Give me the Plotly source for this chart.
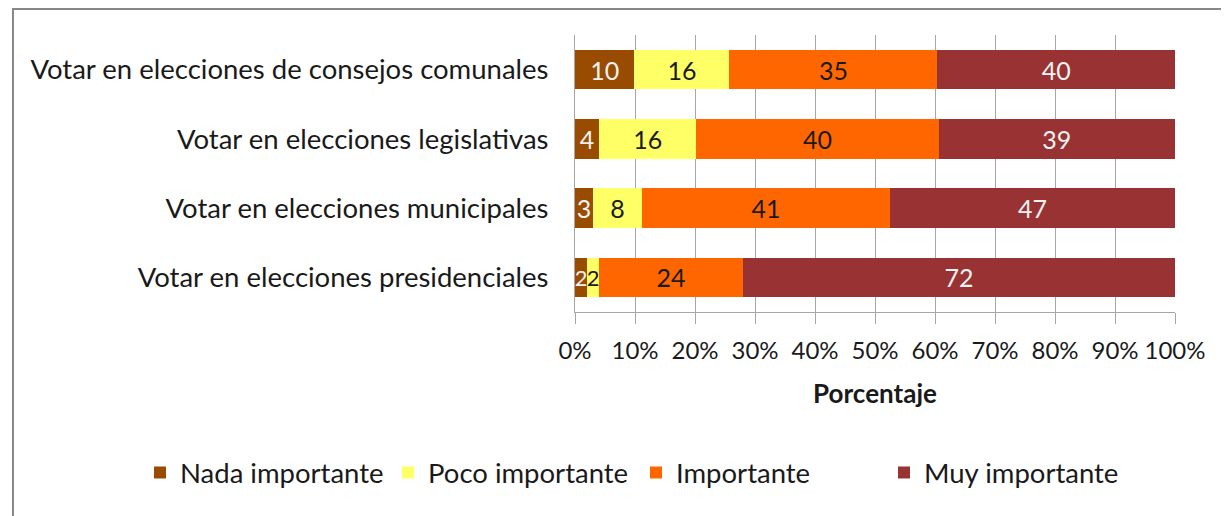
import plotly.graph_objects as go

categorias = [
    "Votar en elecciones de consejos comunales",
    "Votar en elecciones legislativas",
    "Votar en elecciones municipales",
    "Votar en elecciones presidenciales",
]
nada = [10, 4, 3, 2]
poco = [16, 16, 8, 2]
importante = [35, 40, 41, 24]
muy = [40, 39, 47, 72]
ticks = [f"{v}%" for v in range(0, 101, 10)]

series = [
    ("Nada importante", nada, "#994C00", "#f2f2f2"),
    ("Poco importante", poco, "#FFFF66", "#1a1a1a"),
    ("Importante", importante, "#FF6600", "#1a1a1a"),
    ("Muy importante", muy, "#993333", "#f2f2f2"),
]

FONT = "Lato"

fig = go.Figure()
for name, vals, color, tcolor in series:
    # the tiny 2% slices get a slightly smaller label so they don't collide
    sizes = [22 if v <= 2 else 25 for v in vals]
    fig.add_trace(
        go.Bar(
            y=categorias,
            x=vals,
            name=name,
            orientation="h",
            marker=dict(color=color, line=dict(width=0)),
            text=vals,
            texttemplate="%{text}",
            textposition="inside",
            insidetextanchor="middle",
            textangle=0,
            constraintext="none",
            textfont=dict(family=FONT, size=sizes, color=tcolor),
        )
    )

fig.update_layout(
    barmode="stack",
    barnorm="percent",
    bargap=0.43,
    width=1229,
    height=516,
    margin=dict(l=567, r=62, t=27, b=212, autoexpand=False),
    paper_bgcolor="white",
    plot_bgcolor="white",
    font=dict(family=FONT, size=27.5, color="#1a1a1a"),
    legend=dict(
        orientation="h",
        x=-0.725,
        xanchor="left",
        y=-0.58,
        yanchor="middle",
        font=dict(size=27.5),
        itemwidth=30,
        traceorder="normal",
        entrywidth=203,
        entrywidthmode="pixels",
    ),
    xaxis=dict(
        range=[0, 100],
        tickvals=list(range(0, 101, 10)),
        ticktext=ticks,
        tickfont=dict(size=24),
        ticklabelstandoff=6,
        showgrid=True,
        gridcolor="#a6a6a6",
        gridwidth=1,
        showline=True,
        linecolor="#a6a6a6",
        ticks="outside",
        ticklen=11,
        tickcolor="#a6a6a6",
        zeroline=False,
        title=dict(text="<b>Porcentaje</b>", font=dict(size=26), standoff=22),
    ),
    yaxis=dict(
        autorange="reversed",
        showline=True,
        linecolor="#a6a6a6",
        ticks="",
        ticklen=0,
        ticklabelstandoff=20,
        showgrid=False,
    ),
    shapes=[
        dict(
            type="rect",
            xref="paper",
            yref="paper",
            x0=-0.9367,
            x1=1.2,
            y0=-1.0,
            y1=1.094,
            line=dict(color="#888888", width=2),
            fillcolor="rgba(0,0,0,0)",
            layer="below",
        )
    ],
)

fig.write_html("out.html")
